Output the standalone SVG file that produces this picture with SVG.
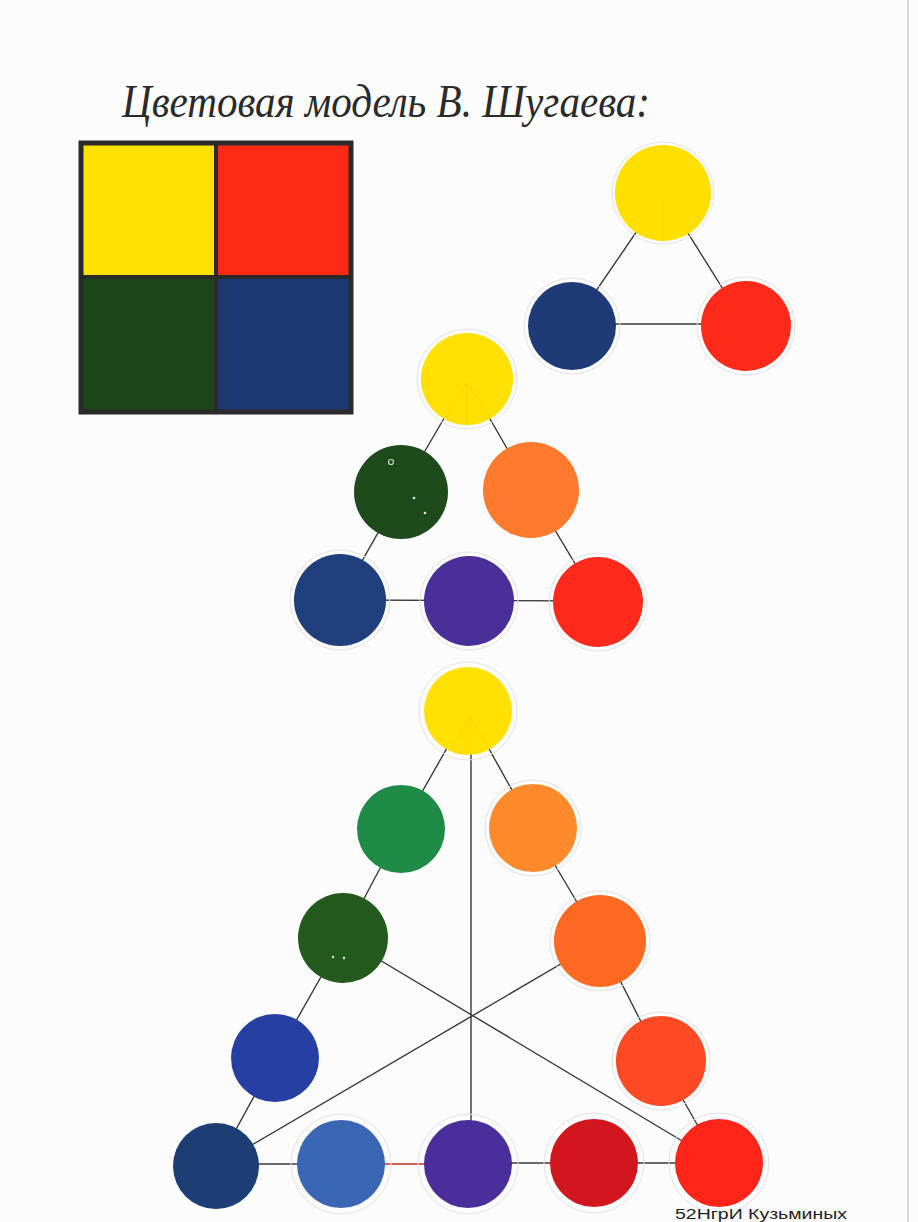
<svg xmlns="http://www.w3.org/2000/svg" width="918" height="1222" viewBox="0 0 918 1222">
<style>
.bg{fill:#fcfcfc}
.edge{stroke:#d8d8d8;stroke-width:2}
.c{stroke:#3a3a3a;stroke-width:1.4;fill:none}
.guide{fill:none;stroke:#e4e4e4;stroke-width:1}
.pencil{stroke:#f0d200;stroke-width:0.7}
.title{font-family:"Liberation Serif","DejaVu Serif",serif;font-style:italic;font-size:46px;fill:#2a2a2a}
.sig{font-family:"Liberation Sans","DejaVu Sans",sans-serif;font-size:15px;fill:#222}
</style>
<rect class="bg" x="0" y="0" width="918" height="1222"/>
<line class="edge" x1="908" y1="0" x2="908" y2="1222"/>
<text class="title" x="122" y="117" textLength="528" lengthAdjust="spacingAndGlyphs">Цветовая модель В. Шугаева:</text>

<g id="square">
<rect x="81" y="143" width="136" height="134" fill="#ffe100"/>
<rect x="216" y="143" width="135" height="134" fill="#ff2a14"/>
<rect x="81" y="277" width="136" height="135" fill="#1c4619"/>
<rect x="216" y="277" width="135" height="135" fill="#1d3674"/>
<rect x="81" y="143" width="270" height="269" fill="none" stroke="#2a2a2a" stroke-width="5"/>
<line x1="216" y1="143" x2="216" y2="412" stroke="#2a2a2a" stroke-width="4"/>
<line x1="81" y1="277" x2="351" y2="277" stroke="#2a2a2a" stroke-width="4"/>
</g>

<g id="connectors">
<line class="c" x1="663" y1="193" x2="572" y2="326"/>
<line class="c" x1="663" y1="193" x2="746" y2="326"/>
<line class="c" x1="572" y1="324" x2="746" y2="324"/>
<line class="c" x1="467" y1="379" x2="401" y2="492"/>
<line class="c" x1="401" y1="492" x2="340" y2="600"/>
<line class="c" x1="467" y1="379" x2="531" y2="490"/>
<line class="c" x1="531" y1="490" x2="598" y2="602"/>
<line class="c" x1="340" y1="600" x2="598" y2="601"/>
<line class="c" x1="468" y1="711" x2="401" y2="829"/>
<line class="c" x1="401" y1="829" x2="343" y2="938"/>
<line class="c" x1="343" y1="938" x2="275" y2="1058"/>
<line class="c" x1="275" y1="1058" x2="216" y2="1166"/>
<line class="c" x1="468" y1="711" x2="533" y2="828"/>
<line class="c" x1="533" y1="828" x2="600" y2="941"/>
<line class="c" x1="600" y1="941" x2="661" y2="1061"/>
<line class="c" x1="661" y1="1061" x2="719" y2="1163"/>
<line class="c" x1="471" y1="740" x2="471" y2="1164"/>
<line class="c" x1="343" y1="938" x2="719" y2="1163"/>
<line class="c" x1="600" y1="941" x2="216" y2="1166"/>
<line class="c" x1="216" y1="1164" x2="341" y2="1164"/>
<line x1="341" y1="1164" x2="468" y2="1164" stroke="#c0302a" stroke-width="1.4"/>
<line class="c" x1="468" y1="1163" x2="719" y2="1163"/>
</g>

<g id="t-yellow"><circle class="guide" cx="663" cy="193" r="51"/><circle cx="663" cy="193" r="48" fill="#ffdf00"/><line class="pencil" x1="663" y1="195" x2="663" y2="240"/></g>
<g id="t-blue"><circle class="guide" cx="572" cy="326" r="48"/><circle cx="572" cy="326" r="44" fill="#1e3b78"/></g>
<g id="t-red"><circle class="guide" cx="746" cy="326" r="49"/><circle cx="746" cy="326" r="45" fill="#ff2a1a"/></g>

<g id="m-yellow"><circle class="guide" cx="467" cy="379" r="50"/><circle cx="467" cy="379" r="46" fill="#ffe000"/><path class="pencil" d="M467 382 L467 425 M467 382 L446 418 M467 382 L490 417" fill="none"/></g>
<g id="m-darkgreen"><circle cx="401" cy="492" r="47" fill="#1f4a1c"/><circle cx="391" cy="462" r="2.5" fill="none" stroke="#cfd8cf" stroke-width="1.2"/><circle cx="414" cy="498" r="1.3" fill="#dfe8df"/><circle cx="425" cy="513" r="1.3" fill="#dfe8df"/></g>
<g id="m-orange"><circle cx="531" cy="490" r="48" fill="#ff7a2c"/></g>
<g id="m-blue"><circle class="guide" cx="340" cy="600" r="50"/><circle cx="340" cy="600" r="46" fill="#1f3e7c"/></g>
<g id="m-purple"><circle class="guide" cx="469" cy="601" r="49"/><circle cx="469" cy="601" r="45" fill="#4a2f98"/></g>
<g id="m-red"><circle class="guide" cx="598" cy="602" r="49"/><circle cx="598" cy="602" r="45" fill="#ff2a1c"/></g>

<g id="b-yellow"><circle class="guide" cx="468" cy="711" r="49"/><circle cx="468" cy="711" r="44" fill="#ffe000"/><path class="pencil" d="M470 716 L470 755 M470 716 L452 748 M470 716 L488 748" fill="none"/></g>
<g id="b-green"><circle cx="401" cy="829" r="44" fill="#1e8c46"/></g>
<g id="b-orange"><circle class="guide" cx="533" cy="828" r="48"/><circle cx="533" cy="828" r="44" fill="#ff8a2c"/></g>
<g id="b-darkgreen"><circle cx="343" cy="938" r="45" fill="#245a1e"/><circle cx="333" cy="957" r="1.2" fill="#e0e8e0"/><circle cx="344" cy="958" r="1.2" fill="#e0e8e0"/></g>
<g id="b-orange2"><circle class="guide" cx="600" cy="941" r="50"/><circle cx="600" cy="941" r="46" fill="#ff6a22"/></g>
<g id="b-blue"><circle cx="275" cy="1058" r="44" fill="#2540a2"/></g>
<g id="b-redorange"><circle class="guide" cx="661" cy="1061" r="49"/><circle cx="661" cy="1061" r="45" fill="#ff4a24"/></g>
<g id="b-darkblue"><circle cx="216" cy="1166" r="43" fill="#1d3e74"/></g>
<g id="b-lightblue"><circle class="guide" cx="341" cy="1164" r="50"/><circle cx="341" cy="1164" r="44" fill="#3a66b6"/></g>
<g id="b-purple"><circle class="guide" cx="468" cy="1164" r="50"/><circle cx="468" cy="1164" r="44" fill="#4a2e9a"/></g>
<g id="b-crimson"><circle class="guide" cx="594" cy="1163" r="50"/><circle cx="594" cy="1163" r="44" fill="#d2161e"/></g>
<g id="b-red"><circle class="guide" cx="719" cy="1163" r="50"/><circle cx="719" cy="1163" r="44" fill="#ff2418"/></g>

<text class="sig" x="675" y="1219" textLength="172" lengthAdjust="spacingAndGlyphs">52НгрИ Кузьминых</text>
</svg>
